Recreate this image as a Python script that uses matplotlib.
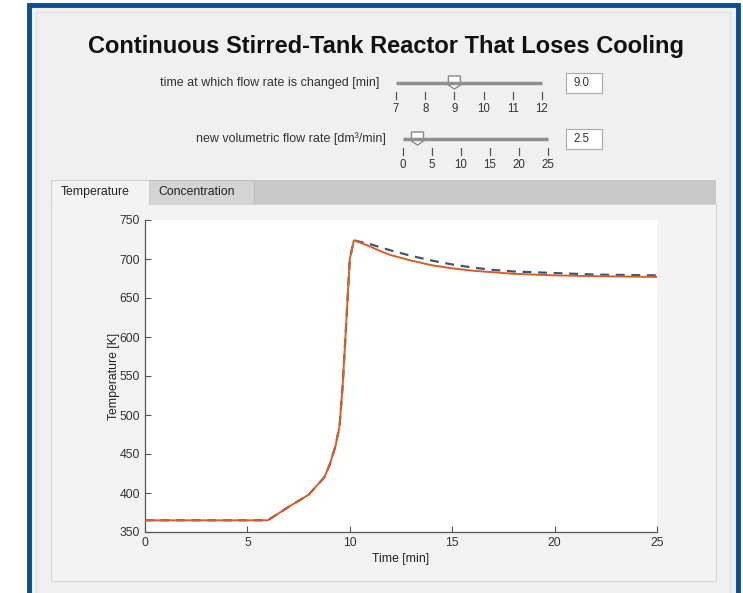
import matplotlib
matplotlib.use("Agg")
import matplotlib.pyplot as plt
from matplotlib.patches import Rectangle, Polygon

plt.rcParams['font.family'] = ['Liberation Sans', 'DejaVu Sans']

# datos
tiempo = [0, 6, 7, 8, 8.75, 9, 9.3, 9.5, 9.65, 9.8, 10, 10.2, 10.5, 11, 11.5, 12, 13, 14, 15, 16, 17, 18, 20, 22, 25]
temp_nuevo = [365, 365, 382, 398, 420, 435, 460, 486, 537, 606, 700, 724, 721, 716, 710, 705, 698, 692, 688, 685, 683, 681, 679, 678, 677]
temp_base = [365, 365, 382, 398, 420, 435, 460, 486, 537, 606, 700, 724, 722, 719, 715, 711, 704, 698, 693, 689, 686, 684, 682, 680, 679]

ticks_t = [7, 8, 9, 10, 11, 12]
ticks_f = [0, 5, 10, 15, 20, 25]
valor_t = 9.0
valor_f = 2.5

W, H = 743, 593
fig = plt.figure(figsize=(W / 100, H / 100), dpi=100, facecolor='white')

# capa de fondo en pixeles
bg = fig.add_axes([0, 0, 1, 1], zorder=0)
bg.set_xlim(0, W)
bg.set_ylim(H, 0)
bg.axis('off')

def rect(x, y, w, h, fc, ec='none', lw=1):
    bg.add_patch(Rectangle((x, y), w, h, facecolor=fc, edgecolor=ec, linewidth=lw))

# marco azul y panel
rect(29, 5, 709, 600, '#f0f0f0', '#0d4f8e', 3.5)
rect(36, 12, 694, 590, 'none', '#e2e2e2', 1)

bg.text(386, 47, 'Continuous Stirred-Tank Reactor That Loses Cooling', fontsize=17,
        fontweight='bold', ha='center', va='center', color='#111111')

def slider(label, y, x0, x1, ticks, valor, texto, caja_x):
    bg.text(x0 - 17, y, label, fontsize=9, ha='right', va='center', color='#333333')
    bg.plot([x0, x1], [y, y], color='#8f8f8f', lw=2.5, solid_capstyle='butt')
    xv = x0 + (valor - ticks[0]) / (ticks[-1] - ticks[0]) * (x1 - x0)
    bg.add_patch(Polygon([(xv - 6, y - 7), (xv + 6, y - 7), (xv + 6, y + 2), (xv, y + 6), (xv - 6, y + 2)],
                         closed=True, facecolor='white', edgecolor='#8a8a8a', lw=1))
    for t in ticks:
        xt = x0 + (t - ticks[0]) / (ticks[-1] - ticks[0]) * (x1 - x0)
        bg.plot([xt, xt], [y + 9, y + 16], color='#555555', lw=0.9)
        bg.text(xt, y + 26, str(t), fontsize=8.3, ha='center', va='center', color='#333333')
    rect(caja_x, y - 10, 36, 20, 'white', '#a8a8a8', 0.8)
    bg.text(caja_x + 7, y + 0.5, texto, fontsize=8.3, ha='left', va='center', color='#333333')

slider('time at which flow rate is changed [min]', 83, 396, 542, ticks_t, valor_t, '9.0', 566)
slider('new volumetric flow rate [dm³/min]', 139, 403, 548, ticks_f, valor_f, '2.5', 566)

# pestañas
rect(51, 180, 665, 24, '#c8c8c8')
rect(149, 180, 105, 24, '#d4d4d4', '#bdbdbd', 0.8)
rect(51, 180, 98, 26, '#f3f3f3', '#d0d0d0', 0.8)
rect(51, 204, 665, 377, '#f3f3f3', '#d6d6d6', 0.8)
rect(52, 203, 96, 3, '#f3f3f3')
bg.text(61, 192, 'Temperature', fontsize=8.8, ha='left', va='center', color='#222222')
bg.text(158, 192, 'Concentration', fontsize=8.8, ha='left', va='center', color='#222222')

# grafica
ax = fig.add_axes([145 / W, 1 - 532 / H, 512 / W, 312 / H], zorder=1)
ax.plot(tiempo, temp_base, color='#3b5876', lw=1.6, ls=(0, (4, 3)), zorder=2)
ax.plot(tiempo, temp_nuevo, color='#d95f26', lw=1.4, zorder=3)
ax.set_xlim(0, 25)
ax.set_ylim(350, 750)
ax.set_xticks([0, 5, 10, 15, 20, 25])
ax.set_yticks(range(350, 751, 50))
ax.spines['top'].set_visible(False)
ax.spines['right'].set_visible(False)
for s in ['left', 'bottom']:
    ax.spines[s].set_color('#555555')
    ax.spines[s].set_linewidth(0.9)
ax.tick_params(direction='in', length=4, width=0.8, colors='#555555', labelsize=8.8, labelcolor='#333333')
ax.set_xlabel('Time [min]', fontsize=8.8, color='#222222', labelpad=3)
ax.set_ylabel('Temperature [K]', fontsize=8.8, color='#222222', labelpad=0)

plt.savefig('out.png', dpi=100, facecolor='white')
